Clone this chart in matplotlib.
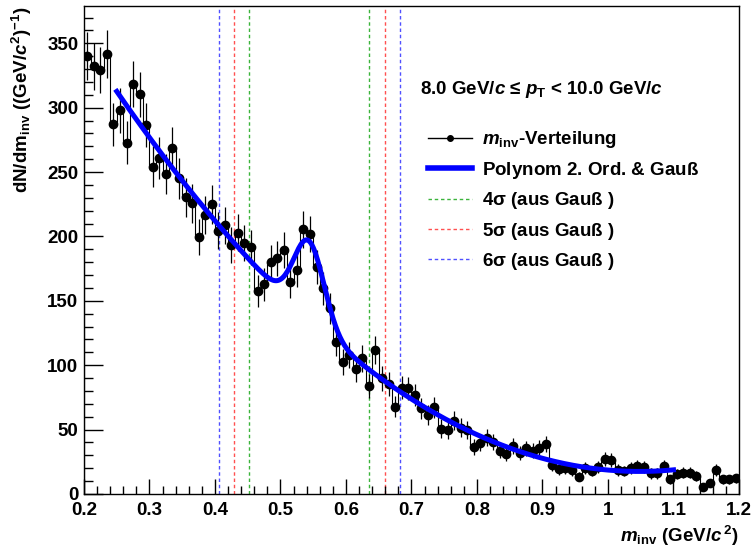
import numpy as np
import matplotlib
matplotlib.use('Agg')
import matplotlib.pyplot as plt
from matplotlib.lines import Line2D
from matplotlib.ticker import MultipleLocator

plt.rcParams['font.family'] = ['Liberation Sans', 'DejaVu Sans']
plt.rcParams['font.weight'] = 'bold'
plt.rcParams['axes.labelweight'] = 'bold'
plt.rcParams['mathtext.fontset'] = 'custom'
plt.rcParams['mathtext.rm'] = 'Liberation Sans:bold'
plt.rcParams['mathtext.it'] = 'Liberation Sans:italic:bold'
plt.rcParams['mathtext.bf'] = 'Liberation Sans:bold'
plt.rcParams['mathtext.sf'] = 'Liberation Sans'

# invariant mass histogram, 100 bins of 0.01 GeV/c^2 from 0.2 to 1.2
bin_edges = np.linspace(0.2, 1.2, 101)
counts = np.array([
    340.3, 332.3, 329.2, 341.6, 287.0, 298.0, 272.8, 318.3, 310.3, 286.5,
    254.1, 261.1, 248.4, 268.9, 245.1, 230.4, 225.7, 199.8, 217.0, 224.9,
    204.4, 208.8, 193.3, 202.9, 195.1, 191.5, 157.6, 162.8, 179.9, 183.0,
    189.4, 164.8, 173.9, 205.7, 201.9, 176.5, 159.7, 144.2, 117.8, 102.7,
    107.9, 96.8, 105.4, 84.1, 111.8, 89.8, 85.2, 67.8, 82.5, 82.0,
    76.9, 66.5, 61.5, 67.3, 50.8, 49.7, 56.9, 51.6, 49.7, 36.7,
    39.4, 43.8, 40.2, 33.6, 30.9, 37.5, 31.8, 35.5, 33.5, 36.0,
    38.6, 22.5, 19.2, 20.4, 18.6, 13.4, 20.4, 17.9, 21.2, 27.2,
    26.4, 18.6, 17.9, 20.4, 21.7, 21.2, 16.0, 16.0, 21.7, 11.4,
    15.3, 16.6, 16.6, 14.0, 5.2, 8.3, 18.6, 11.4, 11.4, 12.2,
])
# statistical errors of the histogram
errors = np.sqrt(counts)

# fit: 2nd order polynomial + gaussian
fit_range = (0.25, 1.1)
pol_coeffs = (526.5, -971.1, 463.2)
gaus_amp = 61.0
gaus_mu = 0.5438
gaus_sigma = 0.0230

sigma_windows = [4, 5, 6]
window_colors = ['#3cb43c', '#ff5050', '#5050ff']

FS = 13.5


def fit_func(x):
    bg = pol_coeffs[0] + pol_coeffs[1] * x + pol_coeffs[2] * x**2
    return bg + gaus_amp * np.exp(-0.5 * ((x - gaus_mu) / gaus_sigma) ** 2)


fig = plt.figure(figsize=(7.53, 5.54), dpi=100)
ax = fig.add_axes([84 / 753, 1 - 494 / 554, 655 / 753, 488 / 554])

centers = 0.5 * (bin_edges[:-1] + bin_edges[1:])
ax.stairs(counts, bin_edges, color='black', lw=0.8, zorder=2)
ax.errorbar(centers, counts, yerr=errors, fmt='o', color='black', ms=6,
            elinewidth=0.9, capsize=0, zorder=3)

xf = np.linspace(fit_range[0], fit_range[1], 500)
ax.plot(xf, fit_func(xf), color='#0000ff', lw=3.6, zorder=4)

for n, col in zip(sigma_windows, window_colors):
    for side in (-1, 1):
        ax.axvline(gaus_mu + side * n * gaus_sigma, color=col, lw=1,
                   ls=(0, (2.5, 2)), zorder=1)

ax.set_xlim(0.2, 1.2)
ax.set_ylim(0, 379)
ax.xaxis.set_major_locator(MultipleLocator(0.1))
ax.xaxis.set_minor_locator(MultipleLocator(0.02))
ax.yaxis.set_major_locator(MultipleLocator(50))
ax.yaxis.set_minor_locator(MultipleLocator(10))
ax.set_xticks(np.arange(0.2, 1.21, 0.1))
ax.set_xticklabels(['0.2', '0.3', '0.4', '0.5', '0.6', '0.7', '0.8', '0.9',
                    '1', '1.1', '1.2'])
ax.tick_params(axis='both', which='both', direction='in', top=False,
               right=False, labelsize=FS, width=1)
ax.tick_params(axis='y', which='major', length=13.7, pad=4)
ax.tick_params(axis='y', which='minor', length=6.5)
ax.tick_params(axis='x', which='major', length=10.8, pad=6)
ax.tick_params(axis='x', which='minor', length=5.8)
for sp in ax.spines.values():
    sp.set_linewidth(1)

ax.set_ylabel(r'dN/d$\mathrm{m}_{\mathrm{inv}}$ ((GeV/$c^{2}$)$^{-1}$)',
              fontsize=FS, loc='top')
ax.yaxis.set_label_coords(-0.076, 1.0)
ax.set_xlabel(r'$m_{\mathrm{inv}}$ (GeV/$c^{\,2}$)', fontsize=FS, loc='right')
ax.xaxis.set_label_coords(1.0, -0.062)

ax.text(0.513, 0.829, r'8.0 GeV/$c$ ≤ $p_{\mathrm{T}}$ < 10.0 GeV/$c$',
        transform=ax.transAxes, fontsize=FS, va='center', ha='left')

handles = [
    Line2D([], [], color='black', lw=1, marker='o', ms=4),
    Line2D([], [], color='#0000ff', lw=4),
]
labels = [r'$m_{\mathrm{inv}}$-Verteilung', r'Polynom 2. Ord. & $\mathsf{Gauß}$']
for n, col in zip(sigma_windows, window_colors):
    handles.append(Line2D([], [], color=col, lw=1, ls=(0, (2.5, 2))))
    labels.append(r'%dσ (aus $\mathsf{Gauß}$ )' % n)

ax.legend(handles, labels, loc='upper left',
          bbox_to_anchor=((428 - 84) / 655, (494 - 128) / 490),
          frameon=False, fontsize=FS, borderpad=0, borderaxespad=0,
          handlelength=2.35, handletextpad=0.55, labelspacing=0.5)

fig.savefig('out.png', dpi=100)
